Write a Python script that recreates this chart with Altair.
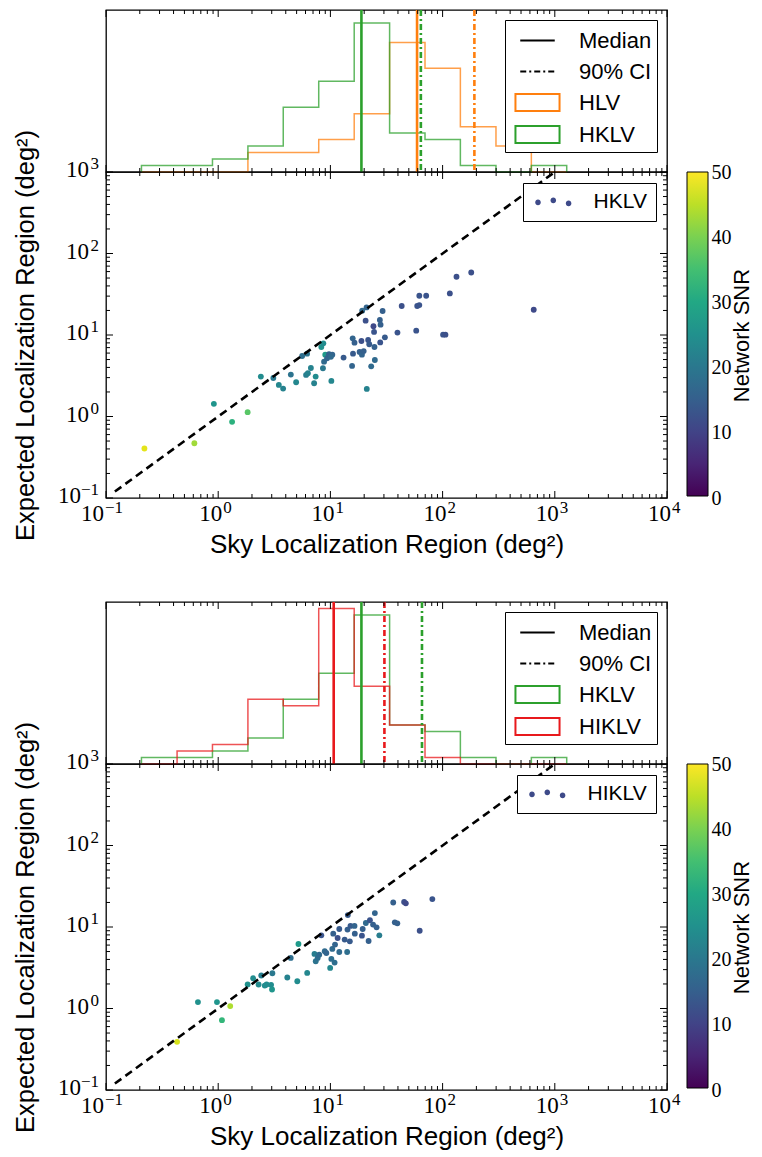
import altair as alt
import pandas as pd

# ---------------- data ----------------
# Panel 1 : HKLV network
SKY_1 = [0.22, 0.613, 0.915, 1.33, 1.83, 2.4, 3.1, 3.47, 3.79, 4.44, 4.95, 5.6, 6.2, 6.07, 6.3,
         6.7, 7.16, 7.39, 8.3, 8.65, 8.58, 8.78, 9.0, 9.34, 9.72, 10.2, 10.4, 10.1, 13.1, 15.6,
         15.8, 15.9, 16.4, 18.2, 18.9, 19.2, 19.1, 19.8, 20.6, 21.0, 21.1, 21.7, 22.2, 23.1, 24.2,
         24.5, 24.7, 24.9, 27.6, 28.0, 27.8, 29.2, 30.6, 39.6, 43.2, 58.2, 59.4, 62.0, 62.0, 71.4,
         101, 106, 116, 133, 180, 649]
EXP_1 = [0.405, 0.47, 1.43, 0.86, 1.13, 3.09, 2.97, 2.44, 2.2, 3.27, 2.63, 5.53, 5.9, 3.24, 3.39,
         3.94, 2.56, 3.09, 7.13, 7.9, 3.91, 4.71, 5.74, 5.18, 5.8, 2.73, 5.74, 5.4, 5.28, 4.17,
         9.1, 5.9, 8.05, 6.2, 8.45, 19.9, 5.74, 6.35, 15.0, 21.8, 2.18, 8.69, 7.7, 4.13, 12.8,
         10.9, 7.13, 4.94, 15.3, 13.4, 8.1, 19.7, 9.36, 10.7, 22.7, 11.3, 22.7, 23.3, 30.3, 30.3,
         10.1, 10.1, 32.4, 51.8, 58.5, 20.4]
SNR_1 = [48, 43, 26, 32, 37, 24, 20, 23, 22, 19, 23, 18, 19, 21, 22,
         22, 22, 24, 25, 24, 20, 17, 27, 16, 15, 23, 16, 17, 14, 16,
         16, 14, 15, 15, 12, 17, 16, 15, 12, 16, 22, 13, 14, 17, 11,
         13, 15, 17, 15, 15, 13, 15, 14, 13, 12, 13, 13, 13, 13, 13,
         13, 12, 12, 12, 12, 11]

# Panel 2 : HIKLV network
SKY_2 = [0.43, 0.66, 0.975, 1.08, 1.28, 1.83, 2.05, 2.29, 2.42, 2.6, 2.7, 2.96, 3.02, 3.04, 4.13,
         4.43, 5.07, 5.19, 6.21, 7.21, 7.4, 7.7, 7.95, 8.3, 8.9, 9.2, 9.95, 10.2, 10.4, 10.6,
         10.9, 11.0, 11.6, 12.0, 12.0, 13.4, 14.1, 14.2, 14.3, 14.9, 15.1, 16.4, 16.5, 19.1, 19.4,
         20.7, 21.9, 22.5, 24.0, 24.9, 25.8, 27.3, 36.3, 37.5, 39.5, 45.4, 47.0, 62.5, 81.0]
EXP_2 = [0.39, 1.2, 1.2, 0.72, 1.07, 1.97, 2.35, 1.97, 2.54, 1.91, 1.97, 1.95, 1.71, 2.71, 2.4,
         4.17, 2.16, 6.19, 2.73, 4.67, 3.8, 4.17, 4.58, 7.9, 5.04, 4.8, 3.15, 4.06, 5.38, 8.28,
         3.66, 6.08, 7.33, 4.94, 9.45, 7.0, 4.94, 9.3, 14.0, 6.67, 10.3, 10.3, 8.28, 7.83, 9.45,
         11.2, 6.74, 12.1, 10.7, 14.8, 9.9, 7.9, 20.0, 11.4, 11.1, 20.3, 19.5, 9.0, 22.0]
SNR_2 = [47, 25, 26, 33, 44, 25, 24, 24, 21, 24, 24, 24, 26, 20, 22,
         18, 24, 27, 23, 21, 19, 18, 17, 13, 17, 16, 23, 18, 17, 15,
         18, 16, 12, 17, 14, 14, 18, 15, 14, 14, 14, 16, 15, 13, 15,
         17, 15, 13, 15, 16, 15, 21, 15, 15, 15, 12, 11, 12, 13]

# histograms (counts per logarithmic bin)
BIN_EDGES = [0.207, 0.430, 0.889, 1.84, 3.80, 7.87, 16.3, 33.7, 69.7, 144, 299, 618, 1277]
COUNTS_HLV_1 = [0, 0, 0, 3, 3, 5, 9, 20, 16, 7, 4, 0]
COUNTS_HKLV_1 = [1, 1, 2, 4, 10, 14, 23, 6, 5, 1, 0, 1]
COUNTS_HKLV_2 = [1, 1, 2, 4, 10, 14, 23, 6, 5, 1, 0, 1]
COUNTS_HIKLV_2 = [0, 2, 3, 10, 9, 24, 12, 6, 1, 0, 0, 0]

MEDIAN_HLV_1, CI90_HLV_1 = 59.2, 192.0
MEDIAN_HKLV_1, CI90_HKLV_1 = 18.9, 64.0
MEDIAN_HKLV_2, CI90_HKLV_2 = 18.9, 65.5
MEDIAN_HIKLV_2, CI90_HIKLV_2 = 10.7, 30.3

DIAGONAL = [0.12, 1000.0]

X_TICKS = [0.1, 1, 10, 100, 1000, 10000]
X_TICK_EXP = ["\u22121", "0", "1", "2", "3", "4"]
Y_TICKS = [0.1, 1, 10, 100, 1000]
Y_TICK_EXP = ["\u22121", "0", "1", "2", "3"]
TICK_BASE = "10"
SNR_TICKS = [0, 10, 20, 30, 40, 50]
LEGEND_KEYS_1 = ["Median", "90% CI", "HLV", "HKLV"]
LEGEND_KEYS_2 = ["Median", "90% CI", "HKLV", "HIKLV"]

# ---------------- styling ----------------
W, H_HIST, H_SC = 561, 162, 326
SERIF = "Liberation Serif"
SANS = "Liberation Sans"
ORANGE, GREEN, RED = "#ff7f0e", "#2ca02c", "#e8191c"
DASHDOT = [6, 3, 2, 3]
BASE_FS, EXP_FS = 23, 17
X_MINOR = [m * 10.0 ** e for e in range(-1, 4) for m in range(2, 10)]
Y_MINOR = [m * 10.0 ** e for e in range(-1, 3) for m in range(2, 10)]

XS = alt.Scale(type="log", domain=[0.1, 10000], nice=False)
YS = alt.Scale(type="log", domain=[0.1, 1000], nice=False)
HS = alt.Scale(domain=[0, 25], nice=False, zero=True)
SNR_SCALE = alt.Scale(domain=[0, 50], nice=False)

X_AXIS = alt.Axis(title="Sky Localization Region (deg\u00b2)", values=X_TICKS, labels=False,
                  titlePadding=33, titleFontSize=26)
Y_AXIS = alt.Axis(title="Expected Localization Region (deg\u00b2)", values=Y_TICKS, labels=False,
                  titlePadding=68, titleFontSize=25.5)


def tick_layers(vals, length, channel, scale, size, axis):
    df = pd.DataFrame({"v": vals})
    base = alt.Chart(df).mark_rule(color="black", strokeWidth=1)
    if channel == "x":
        enc = dict(x=alt.X("v:Q", scale=scale, axis=axis))
        return [
            base.encode(**enc, y=alt.value(0), y2=alt.value(length)),
            base.encode(**enc, y=alt.value(size), y2=alt.value(size - length)),
        ]
    enc = dict(y=alt.Y("v:Q", scale=scale, axis=axis))
    return [
        base.encode(**enc, x=alt.value(0), x2=alt.value(length)),
        base.encode(**enc, x=alt.value(size), x2=alt.value(size - length)),
    ]


def x_label_layers():
    df = pd.DataFrame({"v": X_TICKS, "e": X_TICK_EXP, "b": TICK_BASE})
    out = []
    for cond, junction in (("length(datum.e) == 1", 4), ("length(datum.e) > 1", -2)):
        src = alt.Chart(df).transform_filter(cond)
        out.append(src.mark_text(align="right", baseline="top", font=SERIF, fontSize=BASE_FS,
                                 dx=junction, color="black")
                   .encode(x=alt.X("v:Q", scale=XS, axis=X_AXIS), y=alt.value(H_SC + 5), text="b:N"))
        out.append(src.mark_text(align="left", baseline="top", font=SERIF, fontSize=EXP_FS,
                                 dx=junction + 1, color="black")
                   .encode(x=alt.X("v:Q", scale=XS, axis=X_AXIS), y=alt.value(H_SC + 2), text="e:N"))
    return out


def y_label_layers():
    df = pd.DataFrame({"v": Y_TICKS, "e": Y_TICK_EXP, "b": TICK_BASE})
    out = [alt.Chart(df).mark_text(align="right", baseline="middle", font=SERIF, fontSize=EXP_FS,
                                   dx=-7, dy=-8, color="black")
           .encode(y=alt.Y("v:Q", scale=YS, axis=Y_AXIS), x=alt.value(0), text="e:N")]
    for cond, junction in (("length(datum.e) == 1", -17), ("length(datum.e) > 1", -25)):
        out.append(alt.Chart(df).transform_filter(cond)
                   .mark_text(align="right", baseline="middle", font=SERIF, fontSize=BASE_FS,
                              dx=junction, dy=-2, color="black")
                   .encode(y=alt.Y("v:Q", scale=YS, axis=Y_AXIS), x=alt.value(0), text="b:N"))
    return out


def step_frame(counts):
    rows = [{"x": BIN_EDGES[0], "c": 0, "i": 0}]
    for i, c in enumerate(counts):
        rows.append({"x": BIN_EDGES[i], "c": c, "i": i + 1})
    rows.append({"x": BIN_EDGES[-1], "c": 0, "i": len(counts) + 1})
    return pd.DataFrame(rows)


LINE_PATH = "M-1.19,0L1.19,0"
RECT_PATH = "M-1.52,-0.58L1.52,-0.58L1.52,0.58L-1.52,0.58Z"


def hist_panel(series, keys):
    layers = []
    for counts, col, med, ci in series:
        layers.append(
            alt.Chart(step_frame(counts)).mark_line(
                interpolate="step-after", strokeWidth=1.5, color=col, opacity=0.75
            ).encode(
                x=alt.X("x:Q", scale=XS, axis=None),
                y=alt.Y("c:Q", scale=HS, axis=None),
                order="i:Q",
            )
        )
    for counts, col, med, ci in series:
        layers.append(
            alt.Chart(pd.DataFrame({"x": [med]})).mark_rule(color=col, strokeWidth=2.6)
            .encode(x=alt.X("x:Q", scale=XS, axis=None))
        )
        layers.append(
            alt.Chart(pd.DataFrame({"x": [ci]})).mark_rule(color=col, strokeWidth=2.6, strokeDash=DASHDOT)
            .encode(x=alt.X("x:Q", scale=XS, axis=None))
        )
    layers += tick_layers(X_TICKS, 7, "x", XS, H_HIST, None)
    layers += tick_layers(X_MINOR, 4, "x", XS, H_HIST, None)
    leg = alt.Legend(
        title=None, orient="top-right", offset=10, padding=5, rowPadding=4,
        strokeColor="black", fillColor="white", cornerRadius=0,
        labelFont=SANS, labelFontSize=22, labelColor="black", labelOffset=26,
        symbolSize=841, symbolOffset=12, symbolStrokeWidth=2, symbolOpacity=1,
    )
    colors = ["black", "black"] + [s[1] for s in series]
    legend_layer = alt.Chart(pd.DataFrame({"key": keys})).transform_filter("false").mark_point(
        filled=False
    ).encode(
        shape=alt.Shape("key:N", scale=alt.Scale(domain=keys, range=[LINE_PATH, LINE_PATH, RECT_PATH, RECT_PATH]), legend=leg),
        stroke=alt.Stroke("key:N", scale=alt.Scale(domain=keys, range=colors), legend=leg),
        strokeDash=alt.StrokeDash("key:N", scale=alt.Scale(domain=keys, range=[[1, 0], DASHDOT, [1, 0], [1, 0]]), legend=leg),
    )
    layers.append(legend_layer)
    return alt.layer(*layers).properties(width=W, height=H_HIST)


# three scatter dots for the point legend
DOT_X = [-0.41, 1.12, 2.65]
DOT_Y = [0.03, -0.17, 0.13]
DOT_R = 0.28
DOTS_PATH = "".join(
    f"M{cx - DOT_R},{cy}A{DOT_R},{DOT_R},0,1,0,{cx + DOT_R},{cy}A{DOT_R},{DOT_R},0,1,0,{cx - DOT_R},{cy}Z"
    for cx, cy in zip(DOT_X, DOT_Y)
)


def scatter_panel(sky, exp, snr, name):
    df = pd.DataFrame({"sky": sky, "exp": exp, "snr": snr})
    pts = alt.Chart(df).mark_circle(size=34, opacity=1).encode(
        x=alt.X("sky:Q", scale=XS, axis=X_AXIS),
        y=alt.Y("exp:Q", scale=YS, axis=Y_AXIS),
        color=alt.Color("snr:Q", scale=alt.Scale(scheme="viridis", domain=[0, 50]),
                        legend=alt.Legend(
                            orient="none", legendX=W + 20, legendY=0, direction="vertical",
                            gradientLength=H_SC - 2, gradientThickness=21,
                            gradientStrokeColor="black", gradientStrokeWidth=1,
                            values=SNR_TICKS, labelExpr="''", title=None, padding=0,
                        )),
    )
    diag = alt.Chart(pd.DataFrame({"a": DIAGONAL})).mark_line(
        color="black", strokeWidth=2.6, strokeDash=[8, 5], clip=True
    ).encode(x=alt.X("a:Q", scale=XS, axis=X_AXIS), y=alt.Y("a:Q", scale=YS, axis=Y_AXIS))
    main = alt.layer(pts, diag,
                     *tick_layers(X_TICKS, 7, "x", XS, H_SC, X_AXIS),
                     *tick_layers(X_MINOR, 4, "x", XS, H_SC, X_AXIS),
                     *tick_layers(Y_TICKS, 7, "y", YS, W, Y_AXIS),
                     *tick_layers(Y_MINOR, 4, "y", YS, W, Y_AXIS),
                     *x_label_layers(), *y_label_layers())
    # colour-bar tick labels and title, drawn as a right-hand axis of the SNR scale
    snr_axis = alt.Chart(pd.DataFrame({"s": SNR_TICKS})).transform_filter("false").mark_point().encode(
        y=alt.Y("s:Q", scale=SNR_SCALE,
                axis=alt.Axis(title="Network SNR", orient="right", offset=41, values=SNR_TICKS,
                              format="d", labelFlush=False, labelPadding=3, labelFontSize=20,
                              labelFont=SERIF, titleAngle=270, titleBaseline="top",
                              titlePadding=0, titleFontSize=22))
    )
    legend_layer = alt.Chart(pd.DataFrame({"lab": [name]})).transform_filter("false").mark_point(
        filled=True, color="#3e4a89"
    ).encode(
        shape=alt.Shape("lab:N", scale=alt.Scale(domain=[name], range=[DOTS_PATH]),
                        legend=alt.Legend(
                            title=None, orient="top-right", offset=11, padding=8.6,
                            strokeColor="black", fillColor="white", cornerRadius=0,
                            labelFont=SANS, labelFontSize=21, labelColor="black", labelOffset=41,
                            symbolSize=400, symbolOpacity=1, symbolFillColor="#3e4a89",
                            symbolStrokeWidth=0,
                        ))
    )
    return alt.layer(main, snr_axis, legend_layer).resolve_scale(y="independent").properties(
        width=W, height=H_SC)


IND = dict(color="independent", shape="independent", stroke="independent", strokeDash="independent")

panel1 = alt.vconcat(
    hist_panel([(COUNTS_HLV_1, ORANGE, MEDIAN_HLV_1, CI90_HLV_1),
                (COUNTS_HKLV_1, GREEN, MEDIAN_HKLV_1, CI90_HKLV_1)], LEGEND_KEYS_1),
    scatter_panel(SKY_1, EXP_1, SNR_1, "HKLV"),
    spacing=0, bounds="flush",
).resolve_scale(**IND).resolve_legend(**IND)

panel2 = alt.vconcat(
    hist_panel([(COUNTS_HKLV_2, GREEN, MEDIAN_HKLV_2, CI90_HKLV_2),
                (COUNTS_HIKLV_2, RED, MEDIAN_HIKLV_2, CI90_HIKLV_2)], LEGEND_KEYS_2),
    scatter_panel(SKY_2, EXP_2, SNR_2, "HIKLV"),
    spacing=0, bounds="flush",
).resolve_scale(**IND).resolve_legend(**IND)

chart = alt.vconcat(panel1, panel2, spacing=42).resolve_scale(**IND).resolve_legend(**IND).properties(
    padding={"left": 4, "top": 0, "right": 0, "bottom": 0}, background="white"
).configure_view(
    stroke="black", strokeWidth=1.3
).configure_axis(
    grid=False, ticks=False, domain=False,
    labelFont=SERIF, labelFontSize=22, labelColor="black",
    titleFont=SANS, titleFontSize=25, titleFontWeight="normal", titleColor="black",
)

chart.save("out.html", embed_options={"renderer": "svg", "actions": False})
